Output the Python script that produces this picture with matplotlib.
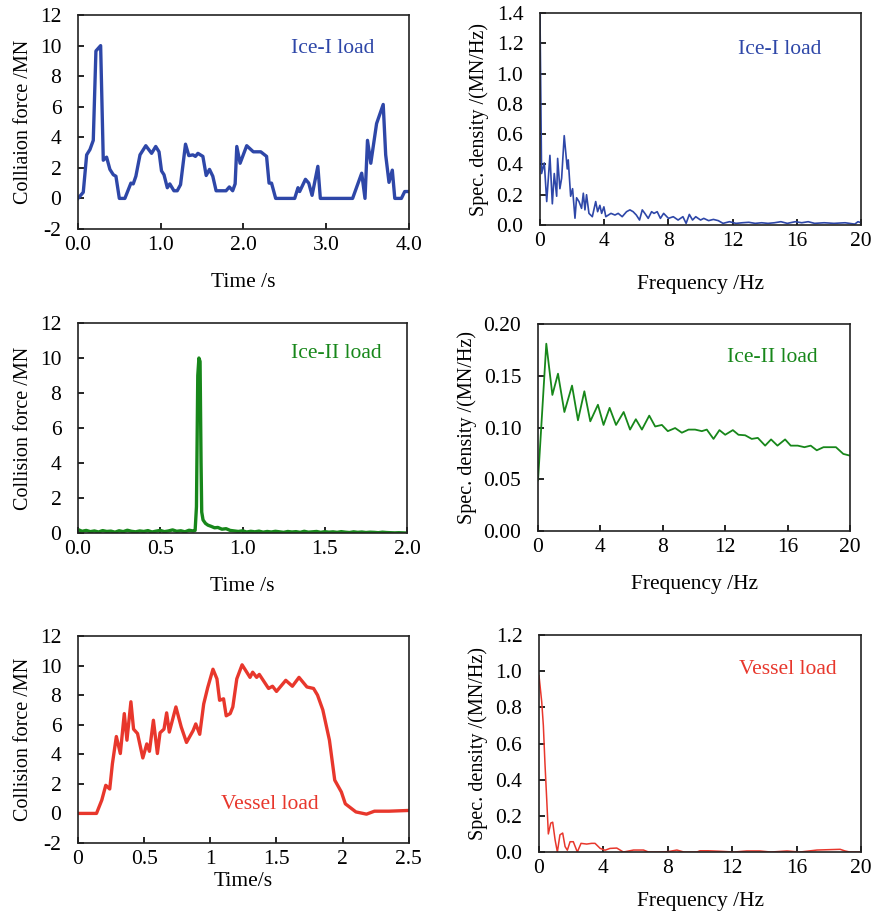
import matplotlib
matplotlib.use("Agg")
import matplotlib.pyplot as plt

plt.rcParams["font.family"] = "Liberation Serif"
plt.rcParams["font.size"] = 15.5

BLUE = "#2E47A8"
GREEN = "#17871A"
RED = "#E8372C"

# ---- Ice-I load: time history ----
ice1_t = [0, 0.064, 0.105, 0.145, 0.185, 0.217, 0.274, 0.306, 0.346, 0.386, 0.427,
          0.459, 0.5, 0.567, 0.64, 0.668, 0.7, 0.75, 0.82, 0.89, 0.94, 0.98, 1.01,
          1.04, 1.08, 1.11, 1.16, 1.2, 1.24, 1.30, 1.34, 1.39, 1.42, 1.45, 1.51,
          1.55, 1.59, 1.63, 1.67, 1.79, 1.83, 1.87, 1.90, 1.92, 1.96, 2.04, 2.12,
          2.21, 2.28, 2.31, 2.34, 2.39, 2.62, 2.66, 2.68, 2.75, 2.79, 2.83, 2.90,
          2.93, 3.32, 3.43, 3.47, 3.50, 3.54, 3.61, 3.69, 3.72, 3.76, 3.80, 3.83,
          3.91, 3.95, 4.0]
ice1_f = [0, 0.4, 2.85, 3.2, 3.8, 9.65, 10.0, 2.5, 2.7, 1.9, 1.55,
          1.45, 0, 0, 1.0, 0.95, 1.45, 2.85, 3.45, 2.95, 3.4, 3.05, 1.8,
          1.55, 0.7, 0.95, 0.5, 0.5, 0.9, 3.55, 2.8, 2.85, 2.75, 2.95, 2.75,
          1.5, 1.9, 1.45, 0.5, 0.5, 0.75, 0.5, 0.95, 3.4, 2.3, 3.45, 3.05,
          3.05, 2.75, 1.0, 1.0, 0, 0, 0.7, 0.45, 1.25, 1.0, 0.2, 2.1,
          0, 0, 1.65, 0, 3.8, 2.3, 4.9, 6.15, 2.85, 1.05, 1.85, 0,
          0, 0.45, 0.45]

# ---- Ice-I load: spectrum ----
ice1_freq = [0, 0.1, 0.27, 0.42, 0.62, 0.77, 0.89, 1.04, 1.1, 1.24, 1.35, 1.51,
             1.7, 1.76, 1.91, 2.03, 2.18, 2.28, 2.43, 2.59, 2.7, 2.8, 2.9, 3.05,
             3.26, 3.47, 3.59, 3.73, 3.84, 3.98, 4.1, 4.42, 4.67, 4.87, 5.12,
             5.39, 5.6, 5.8, 6.0, 6.2, 6.37, 6.53, 6.74, 6.95, 7.1, 7.3, 7.5,
             7.7, 8.0, 8.3, 8.6, 8.9, 9.1, 9.3, 9.5, 9.7, 10.0, 10.2, 10.5,
             10.8, 11.1, 11.4, 11.8, 12.2, 12.6, 13.0, 13.4, 13.8, 14.2, 14.6,
             15.0, 15.4, 15.9, 16.3, 16.7, 17.1, 17.7, 18.3, 19.0, 19.6, 19.8, 20.0]
ice1_psd = [1.4, 0.34, 0.41, 0.155, 0.46, 0.14, 0.34, 0.19, 0.44, 0.24, 0.31, 0.59,
            0.37, 0.43, 0.19, 0.24, 0.045, 0.18, 0.155, 0.11, 0.21, 0.10, 0.20, 0.077,
            0.055, 0.155, 0.088, 0.13, 0.077, 0.12, 0.055, 0.077, 0.066, 0.077, 0.055,
            0.088, 0.10, 0.088, 0.066, 0.033, 0.10, 0.077, 0.044, 0.088, 0.077, 0.088, 0.044,
            0.077, 0.044, 0.055, 0.033, 0.055, 0.011, 0.07, 0.033, 0.055, 0.033, 0.044, 0.029,
            0.037, 0.029, 0.011, 0.022, 0.011, 0.015, 0.018, 0.011, 0.015, 0.011, 0.015,
            0.022, 0.011, 0.022, 0.015, 0.022, 0.011, 0.015, 0.011, 0.015, 0.006, 0.022, 0.015]

# ---- Ice-II load: time history ----
ice2_t = [0, 0.025, 0.05, 0.075, 0.1, 0.125, 0.15, 0.175, 0.2, 0.225, 0.25, 0.275,
          0.3, 0.325, 0.35, 0.375, 0.4, 0.425, 0.45, 0.475, 0.5, 0.525, 0.55, 0.575,
          0.6, 0.625, 0.65, 0.675, 0.7, 0.712, 0.72, 0.728, 0.735, 0.742, 0.748,
          0.752, 0.76, 0.775, 0.79, 0.81, 0.83, 0.85, 0.875, 0.9, 0.925, 0.95,
          0.975, 1.0, 1.025, 1.05, 1.075, 1.1, 1.125, 1.15, 1.175, 1.2, 1.225, 1.25,
          1.275, 1.3, 1.325, 1.35, 1.375, 1.4, 1.425, 1.45, 1.475, 1.5, 1.525, 1.55,
          1.575, 1.6, 1.625, 1.65, 1.675, 1.7, 1.725, 1.75, 1.775, 1.8, 1.825, 1.85,
          1.875, 1.9, 1.925, 1.95, 1.975, 2.0]
ice2_f = [0.20, 0.10, 0.15, 0.08, 0.12, 0.06, 0.14, 0.09, 0.11, 0.05, 0.13, 0.08,
          0.16, 0.10, 0.07, 0.12, 0.09, 0.14, 0.06, 0.11, 0.15, 0.08, 0.12, 0.18,
          0.10, 0.13, 0.07, 0.16, 0.12, 0.15, 1.5, 9.0, 10.0, 9.8, 4.0,
          1.2, 0.75, 0.55, 0.45, 0.38, 0.30, 0.32, 0.22, 0.25, 0.15, 0.12,
          0.09, 0.13, 0.06, 0.10, 0.07, 0.11, 0.05, 0.09, 0.06, 0.10, 0.07, 0.04,
          0.09, 0.06, 0.08, 0.04, 0.10, 0.05, 0.07, 0.09, 0.04, 0.08, 0.05, 0.07,
          0.04, 0.08, 0.05, 0.03, 0.07, 0.04, 0.06, 0.03, 0.05, 0.04, 0.02, 0.05,
          0.03, 0.02, 0.01, 0.02, 0.01, 0.0]

# ---- Ice-II load: spectrum ----
ice2_freq = [0, 0.53, 0.92, 1.28, 1.69, 2.18, 2.56, 2.97, 3.35, 3.84, 4.2, 4.59,
             5.0, 5.49, 5.9, 6.27, 6.66, 7.13, 7.51, 7.94, 8.32, 8.79, 9.22, 9.65,
             10.07, 10.5, 10.82, 11.25, 11.63, 12.0, 12.49, 12.85, 13.28, 13.7,
             14.09, 14.56, 14.94, 15.35, 15.84, 16.2, 16.65, 17.08, 17.48, 17.87,
             18.3, 19.1, 19.57, 19.96]
ice2_psd = [0.049, 0.181, 0.1315, 0.152, 0.115, 0.1405, 0.107, 0.135, 0.106, 0.122,
            0.1025, 0.119, 0.1025, 0.115, 0.098, 0.108, 0.098, 0.1115, 0.101, 0.1025,
            0.0965, 0.0995, 0.095, 0.098, 0.098, 0.0965, 0.098, 0.089, 0.0975, 0.093,
            0.0975, 0.093, 0.0925, 0.089, 0.09, 0.0825, 0.0885, 0.0825, 0.0885, 0.0825,
            0.0825, 0.081, 0.0825, 0.078, 0.081, 0.081, 0.0745, 0.073]

# ---- Vessel load: time history ----
ves_t = [0, 0.14, 0.18, 0.21, 0.24, 0.26, 0.29, 0.32, 0.35, 0.37, 0.40, 0.42,
         0.45, 0.49, 0.52, 0.54, 0.57, 0.60, 0.62, 0.65, 0.67, 0.69, 0.74, 0.78,
         0.82, 0.87, 0.89, 0.92, 0.95, 0.98, 1.02, 1.05, 1.07, 1.10, 1.12, 1.15,
         1.17, 1.20, 1.24, 1.30, 1.32, 1.35, 1.37, 1.44, 1.47, 1.50, 1.57, 1.62,
         1.67, 1.73, 1.78, 1.81, 1.85, 1.90, 1.94, 1.99, 2.02, 2.10, 2.18, 2.24,
         2.35, 2.5]
ves_f = [0, 0, 0.9, 1.9, 1.65, 3.35, 5.2, 4.05, 6.75, 4.95, 7.55, 5.7,
         5.4, 3.75, 4.7, 4.2, 6.3, 4.05, 5.45, 5.7, 6.8, 5.5, 7.2, 5.85,
         4.8, 5.6, 6.05, 5.35, 7.4, 8.5, 9.75, 9.1, 7.65, 7.75, 6.6, 6.75,
         7.2, 9.1, 10.05, 9.2, 9.55, 9.2, 9.4, 8.45, 8.6, 8.25, 9.0, 8.6,
         9.2, 8.55, 8.45, 8.0, 7.0, 4.95, 2.25, 1.45, 0.65, 0.1, -0.05, 0.15,
         0.15, 0.2]

# ---- Vessel load: spectrum ----
ves_freq = [0, 0.17, 0.27, 0.37, 0.48, 0.58, 0.73, 0.85, 1.0, 1.14, 1.3, 1.47,
            1.62, 1.76, 1.93, 2.13, 2.38, 2.61, 2.96, 3.27, 3.48, 3.8, 4.1, 4.41,
            4.83, 5.24, 5.87, 6.49, 6.8, 7.3, 8.0, 8.56, 9.0, 9.8, 10.0, 10.5,
            11.3, 12.1, 12.9, 13.7, 14.4, 15.4, 16.2, 17.26, 18.7, 19.0, 19.3, 20.0]
ves_psd = [0.975, 0.83, 0.70, 0.49, 0.29, 0.10, 0.16, 0.165, 0.067, 0.0, 0.095, 0.105,
           0.03, 0.01, 0.057, 0.057, 0.0, 0.048, 0.044, 0.048, 0.048, 0.02, 0.01, 0.02,
           0.022, 0.0, 0.011, 0.011, 0.0, 0.0, 0.002, 0.011, 0.0, 0.0, 0.007, 0.007,
           0.004, 0.0, 0.006, 0.006, 0.0, 0.006, 0.0, 0.011, 0.015, 0.006, 0.0, 0.0]

YLAB = 14.5   # vertical labels kept a touch smaller


def style(ax, xlim, ylim, xticks, yticks, xfmt, yfmt):
    ax.set_xlim(*xlim)
    ax.set_ylim(*ylim)
    ax.set_xticks(xticks)
    ax.set_yticks(yticks)
    ax.set_xticklabels([xfmt(v) for v in xticks])
    ax.set_yticklabels([yfmt(v) for v in yticks])
    ax.tick_params(direction="in", length=4, width=1.2, top=False, right=False)
    ax.tick_params(axis="y", pad=12)
    ax.tick_params(axis="x", pad=5)
    for s in ax.spines.values():
        s.set_linewidth(1.2)
        s.set_color("#222222")


fig = plt.figure(figsize=(8.8, 9.14), dpi=100)
ax1 = fig.add_axes([0.0886, 0.7495, 0.376, 0.234])
ax2 = fig.add_axes([0.6136, 0.7538, 0.365, 0.232])
ax3 = fig.add_axes([0.0886, 0.4168, 0.374, 0.2298])
ax4 = fig.add_axes([0.6114, 0.4190, 0.3545, 0.2265])
ax5 = fig.add_axes([0.0886, 0.0777, 0.376, 0.2265])
ax6 = fig.add_axes([0.6125, 0.0678, 0.366, 0.2374])

freq_ticks = [0, 4, 8, 12, 16, 20]

# (1) Ice-I time
ax1.plot(ice1_t, ice1_f, color=BLUE, lw=2.4, solid_joinstyle="round")
style(ax1, (0, 4), (-2, 12), [0, 1, 2, 3, 4], range(-2, 13, 2),
      lambda v: f"{v:.1f}", lambda v: f"{v}")
ax1.set_xlabel("Time /s", labelpad=13)
ax1.set_ylabel("Colliaion force /MN", labelpad=5, fontsize=YLAB)
ax1.text(0.77, 0.846, "Ice-I load", color=BLUE, transform=ax1.transAxes,
         ha="center", va="center")

# (2) Ice-I spectrum
ax2.plot(ice1_freq, ice1_psd, color=BLUE, lw=1.2)
style(ax2, (0, 20), (0, 1.4), freq_ticks, [i * 0.2 for i in range(8)],
      lambda v: f"{v}", lambda v: f"{v:.1f}")
ax2.set_xlabel("Frequency /Hz", labelpad=17)
ax2.set_ylabel("Spec. density /(MN/Hz)", labelpad=5, fontsize=YLAB)
ax2.text(0.747, 0.83, "Ice-I load", color=BLUE, transform=ax2.transAxes,
         ha="center", va="center")

# (3) Ice-II time
ax3.plot(ice2_t, ice2_f, color=GREEN, lw=2.4, solid_joinstyle="round")
style(ax3, (0, 2), (0, 12), [0, 0.5, 1.0, 1.5, 2.0], range(0, 13, 2),
      lambda v: f"{v:.1f}", lambda v: f"{v}")
ax3.set_xlabel("Time /s", labelpad=13)
ax3.set_ylabel("Collision force /MN", labelpad=5, fontsize=YLAB)
ax3.text(0.784, 0.857, "Ice-II load", color=GREEN, transform=ax3.transAxes,
         ha="center", va="center")

# (4) Ice-II spectrum
ax4.plot(ice2_freq, ice2_psd, color=GREEN, lw=1.3)
style(ax4, (0, 20), (0, 0.2), freq_ticks, [i * 0.05 for i in range(5)],
      lambda v: f"{v}", lambda v: f"{v:.2f}")
ax4.set_xlabel("Frequency /Hz", labelpad=13)
ax4.set_ylabel("Spec. density /(MN/Hz)", labelpad=5, fontsize=YLAB)
ax4.text(0.75, 0.836, "Ice-II load", color=GREEN, transform=ax4.transAxes,
         ha="center", va="center")

# (5) Vessel time
ax5.plot(ves_t, ves_f, color=RED, lw=2.4, solid_joinstyle="round")
style(ax5, (0, 2.5), (-2, 12), [0, 0.5, 1, 1.5, 2, 2.5], range(-2, 13, 2),
      lambda v: f"{v:g}", lambda v: f"{v}")
ax5.set_xlabel("Time/s", labelpad=2)
ax5.set_ylabel("Collision force /MN", labelpad=5, fontsize=YLAB)
ax5.text(0.58, 0.184, "Vessel load", color=RED, transform=ax5.transAxes,
         ha="center", va="center")

# (6) Vessel spectrum
ax6.plot(ves_freq, ves_psd, color=RED, lw=1.1)
style(ax6, (0, 20), (0, 1.2), freq_ticks, [i * 0.2 for i in range(7)],
      lambda v: f"{v}", lambda v: f"{v:.1f}")
ax6.set_xlabel("Frequency /Hz", labelpad=10)
ax6.set_ylabel("Spec. density /(MN/Hz)", labelpad=5, fontsize=YLAB)
ax6.text(0.773, 0.843, "Vessel load", color=RED, transform=ax6.transAxes,
         ha="center", va="center")

fig.savefig("out.png", dpi=100)
